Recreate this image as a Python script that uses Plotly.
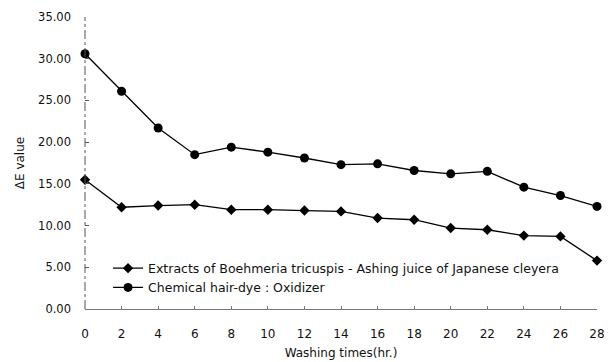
import plotly.graph_objects as go

# Washing time (hours)
washing_hours = [0, 2, 4, 6, 8, 10, 12, 14, 16, 18, 20, 22, 24, 26, 28]

# Colour difference (ΔE) after repeated washing
natural_dye_de = [15.5, 12.2, 12.4, 12.5, 11.9, 11.9, 11.8, 11.7, 10.9, 10.7, 9.7, 9.5, 8.8, 8.7, 5.8]
chemical_dye_de = [30.6, 26.1, 21.7, 18.5, 19.4, 18.8, 18.1, 17.3, 17.4, 16.6, 16.2, 16.5, 14.6, 13.6, 12.3]

series_names = [
    "Extracts of Boehmeria tricuspis - Ashing juice of Japanese cleyera",
    "Chemical hair-dye : Oxidizer",
]

y_ticks = [0, 5, 10, 15, 20, 25, 30, 35]
x_ticks = washing_hours

FONT = "DejaVu Sans, Liberation Sans, sans-serif"

fig = go.Figure()
fig.add_trace(go.Scatter(
    x=washing_hours, y=natural_dye_de, name=series_names[0],
    mode="lines+markers", cliponaxis=False,
    line=dict(color="black", width=1.3),
    marker=dict(symbol="diamond", size=8, color="black"),
))
fig.add_trace(go.Scatter(
    x=washing_hours, y=chemical_dye_de, name=series_names[1],
    mode="lines+markers", cliponaxis=False,
    line=dict(color="black", width=1.3),
    marker=dict(symbol="circle", size=9, color="black"),
))

# dash-dot vertical axis line
fig.add_shape(type="line", xref="paper", yref="paper", x0=0, x1=0, y0=0, y1=1,
              line=dict(color="#555555", width=1, dash="dashdot"))

fig.update_layout(
    width=611, height=362,
    margin=dict(l=85, r=14, t=17, b=53),
    paper_bgcolor="white", plot_bgcolor="white",
    font=dict(family=FONT, size=12, color="#111111"),
    showlegend=True,
    legend=dict(x=0.045, y=0.19, xanchor="left", yanchor="top",
                bgcolor="rgba(0,0,0,0)", font=dict(size=12.5),
                tracegroupgap=0),
    xaxis=dict(range=[0, 28], tickvals=x_ticks, ticktext=[str(v) for v in x_ticks],
               automargin=False,
               showgrid=False, zeroline=False, showline=True, linecolor="#777777",
               linewidth=1, ticks="inside", ticklen=3, tickcolor="#777777",
               tickfont=dict(size=12), ticklabelstandoff=14,
               title=dict(text="Washing times(hr.)", font=dict(size=12), standoff=8)),
    yaxis=dict(range=[0, 35], tickvals=y_ticks, ticktext=[f"{v:.2f}" for v in y_ticks],
               automargin=False,
               showgrid=False, zeroline=False, showline=False,
               ticks="inside", ticklen=4, tickcolor="#555555",
               tickfont=dict(size=11.5), ticklabelstandoff=13,
               title=dict(text="ΔE value", font=dict(size=12), standoff=10)),
)

fig.write_html("out.html")
